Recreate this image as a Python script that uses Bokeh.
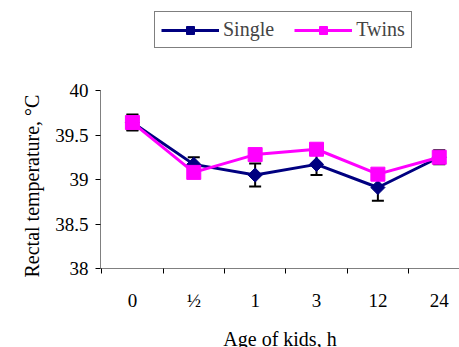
import math
from bokeh.plotting import figure
from bokeh.models import (ColumnDataSource, Whisker, TeeHead, Legend, LegendItem,
                          FixedTicker, CustomJSTickFormatter, Range1d, Title)
from bokeh.embed import file_html
from bokeh.resources import INLINE

ages = ["0", "½", "1", "3", "12", "24"]
single = [39.64, 39.17, 39.05, 39.17, 38.91, 39.25]
single_err = [0.08, 0.08, 0.13, 0.12, 0.15, 0.06]
twins = [39.64, 39.08, 39.28, 39.34, 39.06, 39.25]
twins_err = [0.09, 0.05, 0.05, 0.05, 0.05, 0.08]
y_ticks = [38, 38.5, 39, 39.5, 40]

xs = list(range(len(ages)))
src_s = ColumnDataSource(dict(x=xs, y=single,
                              lo=[v - e for v, e in zip(single, single_err)],
                              hi=[v + e for v, e in zip(single, single_err)]))
src_t = ColumnDataSource(dict(x=xs, y=twins,
                              lo=[v - e for v, e in zip(twins, twins_err)],
                              hi=[v + e for v, e in zip(twins, twins_err)]))

FONT = "Liberation Serif"
FRAME_H = 268
PX_PER_UNIT = 89.0

p = figure(frame_width=359, frame_height=FRAME_H, output_backend="svg", toolbar_location=None,
           x_range=Range1d(-0.52, 5.33), y_range=Range1d(38, 38 + FRAME_H / PX_PER_UNIT),
           min_border_left=100, min_border_right=0, min_border_top=0, min_border_bottom=79)
p.outline_line_color = None
p.xgrid.visible = False
p.ygrid.visible = False
p.background_fill_color = "white"
p.border_fill_color = "white"

for src in (src_s, src_t):
    w = Whisker(source=src, base="x", upper="hi", lower="lo", line_color="black", line_width=2,
                upper_head=TeeHead(size=12, line_color="black", line_width=2),
                lower_head=TeeHead(size=12, line_color="black", line_width=2),
                level="underlay")
    p.add_layout(w)

l1 = p.line("x", "y", source=src_s, line_color="#000080", line_width=3)
m1 = p.scatter("x", "y", source=src_s, marker="square", angle=math.pi / 4, size=10,
               fill_color="#000080", line_color="#000080")
l2 = p.line("x", "y", source=src_t, line_color="#FF00FF", line_width=3)
m2 = p.scatter("x", "y", source=src_t, marker="square", size=14,
               fill_color="#FF00FF", line_color="#FF00FF")

# axes
xa = p.xaxis[0]
xa.ticker = FixedTicker(ticks=xs, minor_ticks=[i - 0.5 for i in range(len(ages) + 1)])
xa.formatter = CustomJSTickFormatter(args=dict(labels=ages),
                                     code="const i = Math.round(tick); return labels[i] ?? '';")
xa.major_tick_out = 0
xa.major_tick_in = 0
xa.minor_tick_out = 5
xa.minor_tick_in = 0
xa.minor_tick_line_color = "black"
xa.axis_line_color = "#808080"
xa.axis_line_width = 1
xa.major_label_standoff = 16
xa.major_label_text_font = FONT
xa.major_label_text_font_size = "19px"
xa.major_label_text_color = "black"
xa.axis_label = "Age of kids, h"
xa.axis_label_text_font = FONT
xa.axis_label_text_font_size = "20px"
xa.axis_label_text_font_style = "normal"
xa.axis_label_text_color = "black"
xa.axis_label_standoff = 14

ya = p.yaxis[0]
ya.bounds = (y_ticks[0], y_ticks[-1])
ya.ticker = FixedTicker(ticks=y_ticks, minor_ticks=[])
ya.formatter = CustomJSTickFormatter(code="return tick.toString();")
ya.major_tick_out = 5
ya.major_tick_in = 0
ya.major_tick_line_color = "black"
ya.axis_line_color = "#808080"
ya.major_label_standoff = 7
ya.major_label_text_font = FONT
ya.major_label_text_font_size = "19px"
ya.major_label_text_color = "black"

ytitle = Title(text="Rectal temperature, °C", align="left", offset=-9, standoff=20,
               text_font=FONT, text_font_size="20px", text_font_style="normal",
               text_color="black")
p.add_layout(ytitle, "left")

legend = Legend(items=[LegendItem(label="Single", renderers=[l1, m1]),
                       LegendItem(label="Twins", renderers=[l2, m2])],
                orientation="horizontal", location=(54, 220),
                glyph_width=58, glyph_height=20, label_height=20, label_text_font=FONT,
                label_text_font_size="20px", label_standoff=4, spacing=20,
                padding=6, margin=0, border_line_color="black", border_line_width=1,
                background_fill_alpha=1)
p.add_layout(legend, "center")

open("out.html", "w").write(file_html(p, INLINE))
